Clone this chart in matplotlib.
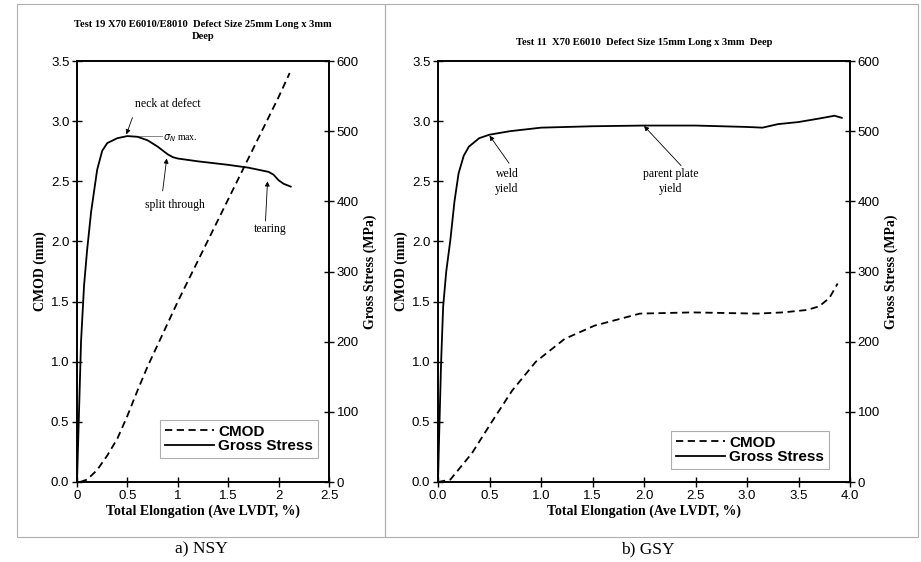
import matplotlib
matplotlib.use("Agg")
import matplotlib.pyplot as plt
from matplotlib.patches import Rectangle
from matplotlib.lines import Line2D

# ---------------- data ----------------
# Panel a) NSY
a_x_stress = [0, 0.02, 0.04, 0.07, 0.10, 0.14, 0.20, 0.25, 0.30, 0.40, 0.50, 0.60,
              0.70, 0.80, 0.90, 0.95, 1.00, 1.20, 1.50, 1.70, 1.90, 1.95, 2.00, 2.05, 2.12]
a_stress = [0, 100, 200, 280, 330, 385, 445, 472, 483, 490, 493, 492,
            487, 478, 467, 463, 461, 457, 452, 448, 442, 438, 430, 425, 421]
a_x_cmod = [0.03, 0.10, 0.20, 0.30, 0.40, 0.50, 0.60, 0.70, 0.80, 1.00, 1.20, 1.40,
            1.60, 1.80, 2.00, 2.11]
a_cmod = [0.0, 0.02, 0.10, 0.22, 0.36, 0.55, 0.76, 0.96, 1.14, 1.50, 1.84, 2.18,
          2.52, 2.86, 3.20, 3.40]

# Panel b) GSY
b_x_stress = [0, 0.01, 0.03, 0.05, 0.08, 0.12, 0.16, 0.20, 0.25, 0.30, 0.40, 0.50,
              0.70, 1.00, 1.50, 2.00, 2.50, 3.00, 3.15, 3.30, 3.50, 3.70, 3.85, 3.92]
b_stress = [0, 60, 170, 250, 300, 345, 400, 440, 465, 478, 490, 495,
            500, 505, 507, 508, 508, 506, 505, 510, 513, 518, 522, 519]
b_x_cmod = [0, 0.12, 0.33, 0.53, 0.72, 0.95, 1.23, 1.52, 1.96, 2.47, 3.10, 3.35,
            3.58, 3.70, 3.80, 3.88]
b_cmod = [0, 0.02, 0.24, 0.51, 0.76, 1.00, 1.19, 1.30, 1.40, 1.41, 1.40, 1.41,
          1.43, 1.46, 1.53, 1.65]

a_title = "Test 19 X70 E6010/E8010  Defect Size 25mm Long x 3mm\nDeep"
b_title = "Test 11  X70 E6010  Defect Size 15mm Long x 3mm  Deep"
a_xticks = [0, 0.5, 1, 1.5, 2, 2.5]
a_xticklabels = ["0", "0.5", "1", "1.5", "2", "2.5"]
b_xticks = [0, 0.5, 1.0, 1.5, 2.0, 2.5, 3.0, 3.5, 4.0]
b_xticklabels = ["0.0", "0.5", "1.0", "1.5", "2.0", "2.5", "3.0", "3.5", "4.0"]
cmod_ticks = [0, 0.5, 1.0, 1.5, 2.0, 2.5, 3.0, 3.5]
stress_ticks = [0, 100, 200, 300, 400, 500, 600]

# ---------------- figure ----------------
W, H = 921, 562
fig = plt.figure(figsize=(W / 100, H / 100), dpi=100)

SANS = "Liberation Sans"
SERIF = "Liberation Serif"


def px_rect(x0, y0, x1, y1):
    return [x0 / W, 1 - y1 / H, (x1 - x0) / W, (y1 - y0) / H]


# panel frames
for (x0, x1) in [(17, 385), (385, 918)]:
    fig.patches.append(Rectangle((x0 / W, 1 - 537 / H), (x1 - x0) / W, (537 - 4) / H,
                                 transform=fig.transFigure, fill=False,
                                 edgecolor="#b0b0b0", linewidth=0.8))


def make_panel(rect, xs, ys, xc, yc, xmax, xticks, xticklabels, title, title_y, legend_rect):
    ax = fig.add_axes(rect)
    ax2 = ax.twinx()
    ax.set_xlim(0, xmax)
    ax.set_ylim(0, 3.5)
    ax2.set_ylim(0, 600)
    ax.plot(xc, yc, color="black", linestyle=(0, (4, 2.5)), linewidth=1.3)
    ax2.plot(xs, ys, color="black", linewidth=1.3)
    ax.set_xticks(xticks)
    ax.set_xticklabels(xticklabels)
    ax.set_yticks(cmod_ticks)
    ax.set_yticklabels([f"{v:.1f}" for v in cmod_ticks])
    ax2.set_yticks(stress_ticks)
    for a in (ax, ax2):
        a.tick_params(direction="inout", length=7, width=1.0, labelsize=9.5, pad=2)
        for lab in a.get_xticklabels() + a.get_yticklabels():
            lab.set_fontfamily(SANS)
        for s in a.spines.values():
            s.set_linewidth(1.2)
    ax.set_xlabel("Total Elongation (Ave LVDT, %)", fontfamily=SERIF, fontweight="bold",
                  fontsize=10, labelpad=2)
    ax.set_ylabel("CMOD (mm)", fontfamily=SERIF, fontweight="bold", fontsize=10, labelpad=3)
    ax2.set_ylabel("Gross Stress (MPa)", fontfamily=SERIF, fontweight="bold", fontsize=10,
                   labelpad=3)
    cx = rect[0] + rect[2] / 2
    fig.text(cx, title_y, title, ha="center", va="top", fontfamily=SERIF, fontweight="bold",
             fontsize=7.6, linespacing=1.4)
    leg_ax = fig.add_axes(legend_rect)
    leg_ax.set_axis_off()
    h1 = Line2D([], [], color="black", linestyle=(0, (4, 2.5)), linewidth=1.3)
    h2 = Line2D([], [], color="black", linewidth=1.3)
    leg = leg_ax.legend([h1, h2], ["CMOD", "Gross Stress"], loc="center", fancybox=False,
                        frameon=True, edgecolor="#999999", borderpad=0.3, handlelength=3.2,
                        handletextpad=0.3, labelspacing=0.05,
                        prop={"family": SANS, "weight": "bold", "size": 11})
    leg.get_frame().set_linewidth(0.8)
    return ax, ax2


axA, axA2 = make_panel(px_rect(77, 61, 329, 482), a_x_stress, a_stress, a_x_cmod, a_cmod,
                       2.5, a_xticks, a_xticklabels, a_title, 1 - 20 / H,
                       px_rect(155, 422, 323, 456))
axB, axB2 = make_panel(px_rect(438, 61, 850, 482), b_x_stress, b_stress, b_x_cmod, b_cmod,
                       4.0, b_xticks, b_xticklabels, b_title, 1 - 38 / H,
                       px_rect(665, 432, 835, 468))

ann_font = dict(fontfamily=SERIF, fontsize=8.5)
arrow = dict(arrowstyle="-|>", color="black", lw=0.6, mutation_scale=7, shrinkA=0, shrinkB=0)

# panel a annotations
axA.annotate("", xy=(0.49, 2.89), xytext=(0.55, 3.03), arrowprops=arrow)
axA.text(0.90, 3.14, "neck at defect", ha="center", va="center", **ann_font)
axA.plot([0.62, 0.84], [2.88, 2.88], color="#555555", lw=0.5)
axA.text(0.85, 2.86, r"$\sigma_N$ max.", ha="left", va="center", fontfamily=SERIF, fontsize=7)
axA.annotate("", xy=(0.89, 2.69), xytext=(0.85, 2.42), arrowprops=arrow)
axA.text(0.97, 2.30, "split through", ha="center", va="center", **ann_font)
axA.annotate("", xy=(1.89, 2.50), xytext=(1.87, 2.17), arrowprops=arrow)
axA.text(1.92, 2.10, "tearing", ha="center", va="center", **ann_font)

# panel b annotations
axB.annotate("", xy=(0.50, 2.88), xytext=(0.69, 2.65), arrowprops=arrow)
axB.text(0.67, 2.50, "weld\nyield", ha="center", va="center", linespacing=1.3, **ann_font)
axB.annotate("", xy=(2.00, 2.96), xytext=(2.36, 2.63), arrowprops=arrow)
axB.text(2.26, 2.50, "parent plate\nyield", ha="center", va="center", linespacing=1.3,
         **ann_font)

# captions
fig.text(201 / W, 1 - 549 / H, "a) NSY", ha="center", va="center", fontfamily=SERIF, fontsize=12.5)
fig.text(648 / W, 1 - 549 / H, "b) GSY", ha="center", va="center", fontfamily=SERIF, fontsize=12.5)

fig.savefig("out.png", dpi=100)
